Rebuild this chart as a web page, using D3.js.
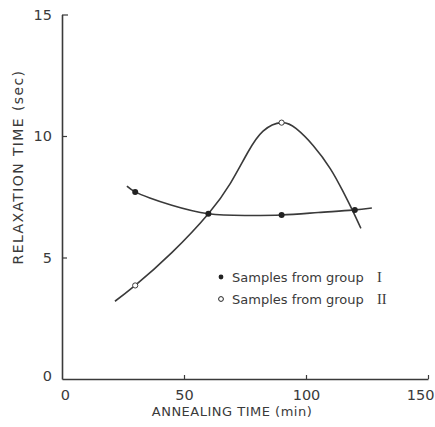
<!DOCTYPE html>
<html>
<head>
<meta charset="utf-8">
<script src="https://cdn.jsdelivr.net/npm/d3@7"></script>
<style>
  body { margin: 0; background: #fff; }
  text { font-family: "DejaVu Sans", sans-serif; fill: #3a3a3a; }
</style>
</head>
<body>
<div class="chart"></div>
<script>
var svgWidth = 435;
var svgHeight = 427;

// measured points (annealing time in min, relaxation time in sec)
var group1Time = [30, 60, 90, 120];
var group1Relax = [7.7, 6.8, 6.75, 6.95];
var group2Time = [30, 90];
var group2Relax = [3.85, 10.55];

// hand drawn curves
var curve1Time = [26.6, 30, 36, 45, 60, 76, 90, 105, 119, 127];
var curve1Relax = [7.94, 7.7, 7.45, 7.15, 6.8, 6.73, 6.75, 6.85, 6.95, 7.04];
var curve2Time = [21.7, 30, 45, 60, 69, 76, 82.4, 90, 96, 103, 110, 115, 119, 122.5];
var curve2Relax = [3.2, 3.85, 5.2, 6.8, 8.05, 9.3, 10.2, 10.55, 10.3, 9.6, 8.65, 7.75, 6.95, 6.2];

var xTicks = [0, 50, 100, 150];
var yTicks = [0, 5, 10, 15];
var legendLabels = ["Samples from group", "Samples from group"];
var legendNumerals = ["I", "II"];

var svg = d3.select(".chart")
  .append("svg")
  .attr("width", svgWidth)
  .attr("height", svgHeight);

var x = d3.scaleLinear().domain([0, 150]).range([62, 428]);
var y = d3.scaleLinear().domain([0, 15]).range([379, 14.5]);

var ink = "#3a3a3a";

// axes
var bottomAxis = d3.axisBottom(x).tickValues(xTicks).tickSize(-4).tickSizeOuter(0).tickPadding(11);
var leftAxis = d3.axisLeft(y).tickValues(yTicks).tickSize(-5).tickSizeOuter(0).tickPadding(10);

var xg = svg.append("g")
  .attr("transform", `translate(0, ${y(0)})`)
  .call(bottomAxis);
var yg = svg.append("g")
  .attr("transform", `translate(${x(0)}, 0)`)
  .call(leftAxis);

[xg, yg].forEach(function (g) {
  g.select(".domain").attr("stroke", ink).attr("stroke-width", 1.6);
  g.selectAll(".tick line").attr("stroke", ink).attr("stroke-width", 1.2);
  g.selectAll(".tick text").style("font-size", "14.5px").attr("fill", ink);
});
xg.selectAll(".tick").filter(d => d === 0).select("line").remove();
yg.selectAll(".tick").filter(d => d === 0 || d === 15).select("line").remove();
yg.selectAll(".tick").filter(d => d === 15).append("line")
  .attr("x2", 6).attr("stroke", ink).attr("stroke-width", 1.2);
yg.selectAll(".tick").filter(d => d === 0).select("text").attr("dy", "0.1em");
xg.selectAll(".tick").filter(d => d === 0).select("text").attr("dx", "0.2em");
xg.selectAll(".tick").filter(d => d === 150).select("text")
  .attr("text-anchor", "end").attr("dx", "6px");

// curves
var line = d3.line()
  .x(d => x(d[0]))
  .y(d => y(d[1]))
  .curve(d3.curveNatural);

svg.append("path")
  .datum(d3.zip(curve1Time, curve1Relax))
  .attr("d", line)
  .attr("fill", "none")
  .attr("stroke", ink)
  .attr("stroke-width", 1.6);

svg.append("path")
  .datum(d3.zip(curve2Time, curve2Relax))
  .attr("d", line)
  .attr("fill", "none")
  .attr("stroke", ink)
  .attr("stroke-width", 1.6);

// points
svg.selectAll(".p1")
  .data(d3.zip(group1Time, group1Relax))
  .enter()
  .append("circle")
  .attr("cx", d => x(d[0]))
  .attr("cy", d => y(d[1]))
  .attr("r", 3)
  .attr("fill", "#222");

svg.selectAll(".p2")
  .data(d3.zip(group2Time, group2Relax))
  .enter()
  .append("circle")
  .attr("cx", d => x(d[0]))
  .attr("cy", d => y(d[1]))
  .attr("r", 2.6)
  .attr("fill", "#fff")
  .attr("stroke", ink)
  .attr("stroke-width", 1);

// legend
var legend = svg.append("g").attr("transform", "translate(221, 277)");
legendLabels.forEach(function (lab, i) {
  var row = legend.append("g").attr("transform", `translate(0, ${i * 22})`);
  row.append("circle")
    .attr("r", 2.4)
    .attr("fill", i === 0 ? "#222" : "#fff")
    .attr("stroke", "#222")
    .attr("stroke-width", i === 0 ? 0 : 1);
  row.append("text")
    .attr("x", 11)
    .attr("y", 5)
    .style("font-size", "13px")
    .text(lab);
  row.append("text")
    .attr("x", 156)
    .attr("y", 5)
    .style("font-family", "'Liberation Serif', serif")
    .style("font-size", "14.5px")
    .text(legendNumerals[i]);
});

// axis labels
svg.append("text")
  .attr("x", 232)
  .attr("y", 416)
  .attr("text-anchor", "middle")
  .style("font-size", "13px")
  .style("letter-spacing", "0.5px")
  .text("ANNEALING TIME (min)");

svg.append("text")
  .attr("transform", "translate(23, 167) rotate(-90)")
  .attr("text-anchor", "middle")
  .style("font-size", "14px")
  .style("letter-spacing", "1.4px")
  .text("RELAXATION TIME (sec)");
</script>
</body>
</html>
